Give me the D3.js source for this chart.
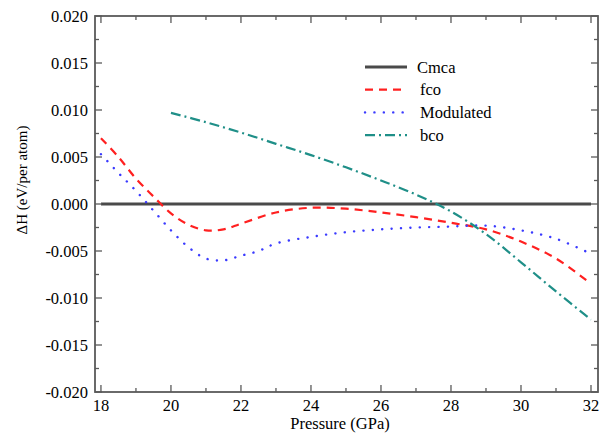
<!DOCTYPE html>
<html>
<head>
<meta charset="utf-8">
<script src="https://cdn.jsdelivr.net/npm/d3@7"></script>
<style>
  html, body { margin: 0; padding: 0; background: #fff; }
  svg { display: block; }
</style>
</head>
<body>
<svg id="chart" width="609" height="441"></svg>
<script>
// Enthalpy differences relative to Cmca (eV/atom) versus pressure (GPa)
const cmcaP = [18, 32];
const cmcaH = [0, 0];

const fcoP = [18, 18.5, 19, 19.5, 20, 20.5, 21, 21.5, 22, 23, 24, 25, 26, 27, 28, 29, 30, 31, 32];
const fcoH = [0.0070, 0.0050, 0.0027, 0.0008, -0.0010, -0.0022, -0.0028, -0.0027, -0.0021, -0.0009,
              -0.0004, -0.0005, -0.0009, -0.0014, -0.0020, -0.0027, -0.0040, -0.0058, -0.0085];

const modP = [18, 18.5, 19, 19.5, 20, 20.5, 21, 21.5, 22, 22.5, 23, 24, 25, 26, 27, 28, 29, 30, 31, 32];
const modH = [0.0053, 0.0033, 0.0014, -0.0007, -0.0028, -0.0046, -0.0058, -0.0060, -0.0055, -0.0050,
              -0.0042, -0.0035, -0.0030, -0.0027, -0.0025, -0.0024, -0.0023, -0.0028, -0.0037, -0.0053];

const bcoP = [20, 21, 22, 23, 24, 25, 26, 27, 28, 29, 30, 31, 32];
const bcoH = [0.0097, 0.0087, 0.0076, 0.0064, 0.0052, 0.0039, 0.0025, 0.0010, -0.0008, -0.0032,
              -0.0062, -0.0093, -0.0123];

const xTicks = [18, 20, 22, 24, 26, 28, 30, 32];
const yTicks = [-0.020, -0.015, -0.010, -0.005, 0.000, 0.005, 0.010, 0.015, 0.020];

const seriesNames = ["Cmca", "fco", "Modulated", "bco"];

const FONT = "'Liberation Serif', 'Times New Roman', Tinos, 'DejaVu Serif', serif";

const svg = d3.select("#chart");
const mLeft = 95, mRight = 598, mTop = 16, mBottom = 392;

const x = d3.scaleLinear().domain([17.83, 32.2]).range([mLeft, mRight]);
const y = d3.scaleLinear().domain([-0.02, 0.02]).range([mBottom, mTop]);

const styles = {
  Cmca:      { color: "#4a4a4a", width: 3,   dash: null,        cap: "butt" },
  fco:       { color: "#ff2020", width: 2.2, dash: "8,6",       cap: "butt" },
  Modulated: { color: "#3a3aff", width: 2.4, dash: "0.1,9.3",   cap: "round" },
  bco:       { color: "#1f8f88", width: 2.2, dash: "10,4,2,4",  cap: "butt" }
};

const toPts = (ps, hs) => ps.map((p, i) => [p, hs[i]]);
const data = {
  Cmca: toPts(cmcaP, cmcaH),
  fco: toPts(fcoP, fcoH),
  Modulated: toPts(modP, modH),
  bco: toPts(bcoP, bcoH)
};

const line = d3.line()
  .x(d => x(d[0]))
  .y(d => y(d[1]))
  .curve(d3.curveCatmullRom.alpha(0.5));

const plot = svg.append("g");
seriesNames.forEach(name => {
  const s = styles[name];
  plot.append("path")
    .datum(data[name])
    .attr("d", line)
    .attr("fill", "none")
    .attr("stroke", s.color)
    .attr("stroke-width", s.width)
    .attr("stroke-linecap", s.cap)
    .attr("stroke-dasharray", s.dash);
});

// Frame and inward ticks
const frame = svg.append("g").attr("stroke", "#5a5a5a").attr("fill", "none");
frame.append("rect")
  .attr("x", mLeft).attr("y", mTop)
  .attr("width", mRight - mLeft).attr("height", mBottom - mTop)
  .attr("stroke-width", 1.8);

const xMinor = d3.range(18, 32.01, 1);
const yMinor = d3.range(-0.02, 0.0201, 0.0025);

xMinor.forEach(v => {
  const major = Math.abs(v % 2) < 1e-9;
  const len = major ? 7 : 4;
  frame.append("line").attr("x1", x(v)).attr("x2", x(v)).attr("y1", mBottom).attr("y2", mBottom - len).attr("stroke-width", 1.3);
  frame.append("line").attr("x1", x(v)).attr("x2", x(v)).attr("y1", mTop).attr("y2", mTop + len).attr("stroke-width", 1.3);
});
yMinor.forEach((v, i) => {
  const major = i % 2 === 0;
  const len = major ? 7 : 4;
  frame.append("line").attr("y1", y(v)).attr("y2", y(v)).attr("x1", mLeft).attr("x2", mLeft + len).attr("stroke-width", 1.3);
  frame.append("line").attr("y1", y(v)).attr("y2", y(v)).attr("x1", mRight).attr("x2", mRight - len).attr("stroke-width", 1.3);
});

// Tick labels (plain hyphen for negative values)
const fmtY = d => d3.format(".3f")(d).replace("\u2212", "-");

svg.append("g").selectAll("text").data(xTicks).join("text")
  .attr("x", d => x(d)).attr("y", mBottom + 19)
  .attr("text-anchor", "middle")
  .attr("font-family", FONT).attr("font-size", 16.5).attr("fill", "#000")
  .text(d => d);

svg.append("g").selectAll("text").data(yTicks).join("text")
  .attr("x", mLeft - 7).attr("y", d => y(d)).attr("dy", "0.35em")
  .attr("text-anchor", "end")
  .attr("font-family", FONT).attr("font-size", 16.5).attr("fill", "#000")
  .text(fmtY);

// Axis titles
svg.append("text")
  .attr("x", 340).attr("y", 429)
  .attr("text-anchor", "middle")
  .attr("font-family", FONT).attr("font-size", 16.5).attr("fill", "#000")
  .text("Pressure (GPa)");

svg.append("text")
  .attr("transform", "translate(27,180) rotate(-90)")
  .attr("text-anchor", "middle")
  .attr("font-family", FONT).attr("font-size", 15).attr("fill", "#000")
  .text("ΔH (eV/per atom)");

// Legend
const legend = svg.append("g");
seriesNames.forEach((name, i) => {
  const s = styles[name];
  const ly = 67 + i * 22.7;
  legend.append("line")
    .attr("x1", 365).attr("x2", 407).attr("y1", ly).attr("y2", ly)
    .attr("stroke", s.color).attr("stroke-width", s.width)
    .attr("stroke-linecap", s.cap)
    .attr("stroke-dasharray", s.dash);
  legend.append("text")
    .attr("x", name === "Cmca" ? 417 : 420).attr("y", ly).attr("dy", "0.35em")
    .attr("font-family", FONT).attr("font-size", 16.5).attr("fill", "#000")
    .text(name);
});
</script>
</body>
</html>
